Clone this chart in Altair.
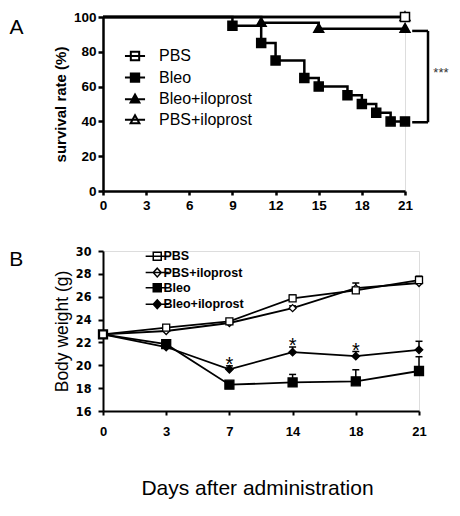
import altair as alt
import pandas as pd

# ---------------- Panel A: survival ----------------
series_a = ["PBS", "Bleo", "Bleo+iloprost", "PBS+iloprost"]
pbs_days = [0, 21]
pbs_surv = [100, 100]
bleo_days = [0, 9, 11, 12, 14, 15, 17, 18, 19, 20, 21]
bleo_surv = [100, 95, 85, 75, 65, 60, 55, 50, 45, 40, 40]
bleoilo_days = [0, 11, 15, 21]
bleoilo_surv = [100, 96.7, 93.3, 93.3]
pbsilo_days = [0, 21]
pbsilo_surv = [100, 100]
a_x_ticks = [0, 3, 6, 9, 12, 15, 18, 21]
a_y_ticks = [0, 20, 40, 60, 80, 100]

bracket_left, bracket_right = 21.5, 22.6
bracket_top, bracket_bottom = 92, 39.5
sig_x, sig_y, sig_text = 23.5, 68, "***"

# ---------------- Panel B: body weight ----------------
series_b = ["PBS", "PBS+iloprost", "Bleo", "Bleo+iloprost"]
days_b = [0, 3, 7, 14, 18, 21]
pbs_w = [22.7, 23.3, 23.85, 25.85, 26.55, 27.45]
pbs_e = [0, 0.1, 0.15, 0.3, 0.2, 0.35]
pbsilo_w = [22.7, 23.0, 23.7, 25.0, 26.75, 27.2]
pbsilo_e = [0, 0.1, 0.1, 0.2, 0.45, 0.3]
bleo_w = [22.7, 21.85, 18.3, 18.5, 18.6, 19.5]
bleo_e = [0, 0.1, 0.15, 0.7, 1.0, 1.25]
bleoilo_w = [22.7, 21.6, 19.65, 21.15, 20.8, 21.35]
bleoilo_e = [0, 0.1, 0.3, 0.45, 0.4, 0.75]
star_days = [7, 14, 18]
star_y = [20.5, 22.1, 21.7]
b_y_ticks = [16, 18, 20, 22, 24, 26, 28, 30]

SANS = "Liberation Sans, Arial, sans-serif"
NARROW = "Liberation Sans Narrow, DejaVu Sans Condensed, Arial Narrow, sans-serif"

SQ = "M-1,-1H1V1H-1Z"
TRI = "M0,-1.15L1.1,0.8H-1.1Z"
DIA = "M0,-1L1,0L0,1L-1,0Z"

# ---------- build A data ----------
a_sets = {
    "PBS": (pbs_days, pbs_surv),
    "Bleo": (bleo_days, bleo_surv),
    "Bleo+iloprost": (bleoilo_days, bleoilo_surv),
    "PBS+iloprost": (pbsilo_days, pbsilo_surv),
}
a_shape = {"PBS": SQ, "Bleo": SQ, "Bleo+iloprost": TRI, "PBS+iloprost": TRI}
a_fill = {"PBS": "white", "Bleo": "black", "Bleo+iloprost": "black", "PBS+iloprost": "white"}
draw_order_a = ["PBS+iloprost", "PBS", "Bleo+iloprost", "Bleo"]
rows = []
for s in draw_order_a:
    d, v = a_sets[s]
    for i, (dd, vv) in enumerate(zip(d, v)):
        rows.append({"series": s, "day": dd, "surv": vv, "marker": i > 0,
                     "shape": a_shape[s], "fill": a_fill[s]})
dfa = pd.DataFrame(rows)

axis_a_x = alt.Axis(values=a_x_ticks, title=None, labelFont=SANS, labelFontWeight="bold",
                    labelFontSize=13.5, labelColor="black", tickSize=4, labelPadding=3,
                    domainWidth=2.5, tickWidth=2.5, domainColor="black", tickColor="black",
                    grid=False, labelFlush=False, labelOverlap=False)
axis_a_y = alt.Axis(values=a_y_ticks, title="survival rate (%)", titleFont=SANS,
                    titleFontWeight="bold", titleFontSize=15, titleColor="black",
                    titlePadding=5, labelFont=SANS, labelFontWeight="bold",
                    labelFontSize=13.5, labelColor="black", tickSize=5, labelPadding=2,
                    domainWidth=2.5, tickWidth=2.5, domainColor="black",
                    tickColor="black", grid=False, labelOverlap=False)
sx_a = alt.Scale(domain=[0, 21], nice=False)
sy_a = alt.Scale(domain=[0, 100], nice=False)


def xa(field="day"):
    return alt.X(f"{field}:Q", scale=sx_a, axis=axis_a_x)


def ya(field="surv"):
    return alt.Y(f"{field}:Q", scale=sy_a, axis=axis_a_y)


lines_a = alt.Chart(dfa).mark_line(interpolate="step-after", color="black",
                                    strokeWidth=2.5).encode(
    x=xa(), y=ya(), detail="series:N")
points_a = alt.Chart(dfa).transform_filter("datum.marker").mark_point(
    filled=True, opacity=1, stroke="black", strokeWidth=1.5, size=81).encode(
    x=xa(), y=ya(),
    shape=alt.Shape("shape:N", scale=None),
    fill=alt.Fill("fill:N", scale=None))

leg_a_paths = ["M-2.4,0H2.4" + ("M-1,-1H1V1H-1Z" if s in ("PBS", "Bleo") else "M0,-1.1L1.05,0.8H-1.05Z")
               for s in series_a]
leg_a_fills = [a_fill[s] for s in series_a]
leg_a_cfg = dict(title=None, orient="none", legendX=24, legendY=31, padding=0,
                 labelFont=SANS, labelFontSize=16, labelFontWeight="normal",
                 labelColor="black", labelOffset=16,
                 rowPadding=3.6, symbolSize=70, symbolStrokeWidth=2,
                 symbolStrokeColor="black")
legend_a = alt.Chart(pd.DataFrame({"series": series_a, "day": [5] * 4, "surv": [-60] * 4})).mark_point(
    filled=True, opacity=1, stroke="black", strokeWidth=2, size=70, clip=True).encode(
    x=xa(), y=ya(),
    shape=alt.Shape("series:N", scale=alt.Scale(domain=series_a, range=leg_a_paths),
                    legend=alt.Legend(**leg_a_cfg)),
    fill=alt.Fill("series:N", scale=alt.Scale(domain=series_a, range=leg_a_fills),
                  legend=alt.Legend(**leg_a_cfg)))

br = pd.DataFrame({
    "day": [bracket_left, bracket_right, bracket_left],
    "day2": [bracket_right, bracket_right, bracket_right],
    "surv": [bracket_top, bracket_top, bracket_bottom],
    "surv2": [bracket_top, bracket_bottom, bracket_bottom],
})
bracket = alt.Chart(br).mark_rule(color="black", strokeWidth=2.5).encode(
    x=xa(), x2="day2:Q", y=ya(), y2="surv2:Q")
sig = alt.Chart(pd.DataFrame({"day": [sig_x], "surv": [sig_y], "t": [sig_text]})).mark_text(
    font=SANS, fontSize=13, color="#333333", baseline="middle").encode(
    x=xa(), y=ya(), text="t:N")

chart_a = alt.layer(lines_a, points_a, bracket, sig, legend_a).properties(
    width=302, height=174,
    title=alt.TitleParams(text="A", orient="left", anchor="end", frame="group", angle=0,
                          align="right", baseline="top", offset=16, fontSize=21,
                          font=SANS, fontWeight="normal", color="black"))

# ---------- build B data ----------
b_sets = {
    "PBS": (pbs_w, pbs_e),
    "PBS+iloprost": (pbsilo_w, pbsilo_e),
    "Bleo": (bleo_w, bleo_e),
    "Bleo+iloprost": (bleoilo_w, bleoilo_e),
}
b_shape = {"PBS": SQ, "PBS+iloprost": DIA, "Bleo": SQ, "Bleo+iloprost": DIA}
b_fill = {"PBS": "white", "PBS+iloprost": "white", "Bleo": "black", "Bleo+iloprost": "black"}
b_size = {"PBS": 49, "PBS+iloprost": 49, "Bleo": 81, "Bleo+iloprost": 56}
rows = []
for s in ["Bleo", "Bleo+iloprost", "PBS+iloprost", "PBS"]:
    w, e = b_sets[s]
    for dd, ww, ee in zip(days_b, w, e):
        rows.append({"group": s, "day": dd, "w": ww, "top": ww + ee, "err": ee,
                     "shape": b_shape[s], "fill": b_fill[s], "size": b_size[s]})
dfb = pd.DataFrame(rows)

axis_b_x = alt.Axis(title="Days after administration", titleFont=SANS,
                    titleFontWeight="normal", titleFontSize=21, titleColor="black",
                    titlePadding=39, titleX=154, labelAngle=0, labelFont=SANS,
                    labelFontWeight="bold", labelFontSize=13, labelColor="black",
                    tickSize=4, labelPadding=10.5, domainWidth=2, tickWidth=2,
                    domainColor="black", tickColor="black", grid=False,
                    labelOverlap=False)
axis_b_y = alt.Axis(values=b_y_ticks, title="Body weight (g)", titleFont=SANS,
                    titleFontWeight="normal", titleFontSize=17.5, titleColor="black",
                    titlePadding=4, labelFont=NARROW, labelFontWeight="bold",
                    labelFontSize=12.5, labelColor="black", tickSize=5, labelPadding=7,
                    domainWidth=2, tickWidth=2, domainColor="black",
                    tickColor="black", grid=False, labelOverlap=False)
sx_b = alt.Scale(type="point", domain=days_b, padding=0)
sy_b = alt.Scale(domain=[16, 30], nice=False)


def xb():
    return alt.X("day:O", scale=sx_b, axis=axis_b_x)


def yb(field="w"):
    return alt.Y(f"{field}:Q", scale=sy_b, axis=axis_b_y)


base_b = alt.Chart(dfb)
err_rules = base_b.transform_filter("datum.err > 0.05").mark_rule(
    color="black", strokeWidth=1.5).encode(x=xb(), y=yb(), y2="top:Q")
err_caps = base_b.transform_filter("datum.err > 0.05").mark_tick(
    color="black", thickness=1.5, size=7, orient="horizontal", opacity=1).encode(
    x=xb(), y=yb("top"))
lines_b = base_b.mark_line(color="black", strokeWidth=1.8).encode(
    x=xb(), y=yb(), detail="group:N")
points_b = base_b.mark_point(filled=True, opacity=1, stroke="black", strokeWidth=1.3).encode(
    x=xb(), y=yb(),
    shape=alt.Shape("shape:N", scale=None),
    fill=alt.Fill("fill:N", scale=None),
    size=alt.Size("size:Q", scale=None))
stars = alt.Chart(pd.DataFrame({"day": star_days, "w": star_y, "t": ["*"] * 3})).mark_text(
    font=SANS, fontSize=20, color="black", baseline="middle", dy=5).encode(
    x=xb(), y=yb(), text="t:N")

leg_b_paths = ["M-2.9,0H2.9" + (SQ if s in ("PBS", "Bleo") else "M0,-1.1L1,0L0,1.1L-1,0Z")
               for s in series_b]
leg_b_fills = [b_fill[s] for s in series_b]
leg_b_cfg = dict(title=None, orient="none", legendX=42, legendY=-1, padding=0,
                 labelFont=SANS, labelFontSize=12.5, labelFontWeight="bold",
                 labelColor="black", labelOffset=0, symbolOffset=6, rowPadding=0.3,
                 symbolSize=64, symbolStrokeWidth=1.5, symbolStrokeColor="black")
legend_b = alt.Chart(pd.DataFrame({"group": series_b, "day": [3] * 4, "w": [5] * 4})).mark_point(
    filled=True, opacity=1, stroke="black", strokeWidth=1.5, size=64, clip=True).encode(
    x=xb(), y=yb(),
    shape=alt.Shape("group:N", scale=alt.Scale(domain=series_b, range=leg_b_paths),
                    legend=alt.Legend(**leg_b_cfg)),
    fill=alt.Fill("group:N", scale=alt.Scale(domain=series_b, range=leg_b_fills),
                  legend=alt.Legend(**leg_b_cfg)))

chart_b = alt.layer(err_rules, err_caps, lines_b, points_b, stars, legend_b).properties(
    width=316, height=160,
    title=alt.TitleParams(text="B", orient="left", anchor="end", frame="group", angle=0,
                          align="right", baseline="top", offset=16, dy=-2, fontSize=21,
                          font=SANS, fontWeight="normal", color="black"))

chart = alt.vconcat(chart_a, chart_b, spacing=32).resolve_scale(
    shape="independent", fill="independent"
).resolve_legend(shape="independent", fill="independent").properties(
    padding={"left": 0, "top": 0, "right": 0, "bottom": 0}
).configure_view(stroke=None).configure_axis(labelOverlap=False).configure(background="white")

chart.save("out.html", embed_options={"renderer": "svg", "actions": False})
